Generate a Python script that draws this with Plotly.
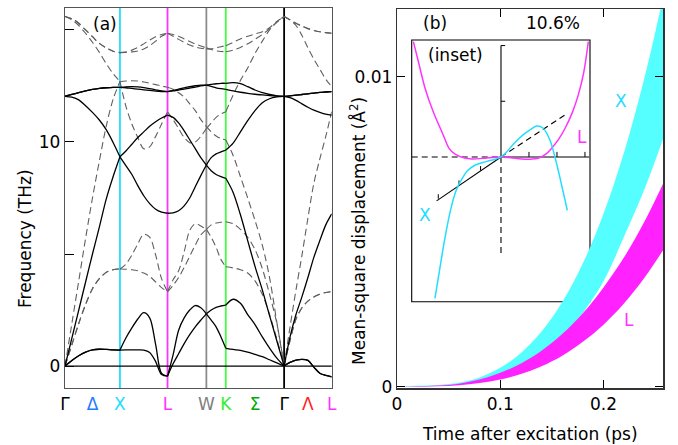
import plotly.graph_objects as go

# ---------------- data: phonon dispersion (panel a) ----------------
# k-path positions (units of 2*pi/a) for each segment
K_GX = [0.0, 0.125, 0.25, 0.375, 0.5, 0.625, 0.75, 0.875, 1.0]
K_XL = [1.0, 1.108, 1.217, 1.325, 1.433, 1.541, 1.650, 1.758, 1.866]
K_LW = [1.866, 1.967, 2.068, 2.169, 2.270, 2.371, 2.472, 2.573]
K_WK = [2.573, 2.661, 2.750, 2.839, 2.927]
K_KG = [2.927, 3.060, 3.193, 3.325, 3.458, 3.591, 3.723, 3.856, 3.988]
K_GL = [3.988, 4.096, 4.204, 4.313, 4.421, 4.529, 4.638, 4.746, 4.854]
SEGMENTS = [K_GX, K_XL, K_LW, K_WK, K_KG, K_GL]

SYM_K = [0.0, 0.5, 1.0, 1.866, 2.573, 2.927, 3.458, 3.988, 4.421, 4.854]
SYM_LABELS = ["Γ", "Δ", "X", "L", "W", "K", "Σ", "Γ", "Λ", "L"]
SYM_COLORS = ["#000000", "#1E7BFF", "#22DDFF", "#FF33FF", "#808080",
              "#33EE33", "#00AA00", "#000000", "#FF2222", "#FF33FF"]
VLINE_K = [1.0, 1.866, 2.573, 2.927, 3.988]
VLINE_COLORS = ["#22DDFF", "#FF33FF", "#8C8C8C", "#44FF44", "#000000"]
FREQ_LABELED = [0, 10]
FREQ_MINOR = [5, 15]

# excited state (solid), frequencies in THz per segment
SOLID_A = [[0, .25, .46, .62, .72, .75, .74, .72, .71],
           [.71, .72, .72, .72, .71, .6, .2, -.38, -.45],
           [-.45, .1, .55, 1.0, 1.4, 1.75, 2.05, 2.33],
           [2.33, 2.5, 2.62, 2.68, 2.72],
           [2.72, 2.98, 2.8, 2.3, 1.85, 1.3, .8, .35, 0],
           [0, .16, .26, .3, .25, -.05, -.32, -.42, -.48]]
SOLID_B = [[0, .25, .46, .62, .72, .75, .74, .72, .71],
           [.71, 1.25, 1.7, 2.1, 2.38, 2.15, .96, -.33, -.45],
           [-.45, .5, 1.6, 2.15, 2.5, 2.7, 2.6, 2.33],
           [2.33, 2.05, 1.75, 1.3, .79],
           [.79, .74, .7, .62, .52, .42, .28, .14, 0],
           [0, .16, .26, .3, .25, -.05, -.32, -.42, -.48]]
SOLID_C = [[0, 1.25, 2.5, 3.75, 5.0, 6.2, 7.45, 8.45, 9.34],
           [9.34, 8.95, 8.55, 8.05, 7.6, 7.25, 7.0, 6.87, 6.82],
           [6.82, 6.84, 6.93, 7.15, 7.5, 8.0, 8.5, 8.97],
           [8.97, 9.3, 9.47, 9.56, 9.64],
           [9.64, 9.95, 10.45, 10.95, 11.4, 11.75, 11.93, 12.01, 12.04],
           [12.04, 12.06, 12.09, 12.12, 12.15, 12.18, 12.21, 12.23, 12.25]]
SOLID_D = [[12.04, 12.0, 11.88, 11.62, 11.32, 10.98, 10.55, 9.98, 9.34],
           [9.34, 9.6, 9.9, 10.2, 10.45, 10.7, 10.9, 11.07, 11.2],
           [11.2, 11.1, 10.85, 10.5, 10.1, 9.7, 9.3, 8.97],
           [8.97, 8.72, 8.55, 8.45, 8.38],
           [8.38, 7.75, 6.75, 5.6, 4.45, 3.4, 2.25, 1.12, 0],
           [0, 1.3, 2.3, 3.1, 3.95, 4.85, 5.6, 6.3, 6.79]]
SOLID_E = [[12.04, 12.12, 12.2, 12.28, 12.35, 12.39, 12.42, 12.44, 12.44],
           [12.44, 12.46, 12.47, 12.46, 12.43, 12.38, 12.33, 12.28, 12.25],
           [12.25, 12.3, 12.36, 12.42, 12.47, 12.51, 12.54, 12.54],
           [12.54, 12.57, 12.6, 12.62, 12.62],
           [12.62, 12.65, 12.6, 12.47, 12.32, 12.2, 12.12, 12.06, 12.04],
           [12.04, 11.98, 11.86, 11.7, 11.55, 11.42, 11.32, 11.24, 11.2]]
SOLID_F = [[12.04, 12.12, 12.2, 12.28, 12.35, 12.39, 12.42, 12.44, 12.44],
           [12.44, 12.42, 12.39, 12.36, 12.33, 12.3, 12.27, 12.25, 12.25],
           [12.25, 12.28, 12.32, 12.36, 12.41, 12.45, 12.5, 12.54],
           [12.54, 12.48, 12.42, 12.38, 12.35],
           [12.35, 12.28, 12.22, 12.17, 12.13, 12.1, 12.07, 12.05, 12.04],
           [12.04, 12.06, 12.09, 12.12, 12.15, 12.18, 12.21, 12.23, 12.25]]

# ground state (dashed)
DASH_A = [[0, .95, 1.9, 2.75, 3.45, 3.9, 4.18, 4.3, 4.33],
          [4.33, 4.32, 4.3, 4.25, 4.15, 4.0, 3.75, 3.5, 3.32],
          [3.32, 3.85, 4.25, 5.1, 6.05, 6.35, 6.25, 6.1],
          [6.1, 5.75, 5.3, 4.75, 4.43],
          [4.43, 4.38, 4.3, 4.15, 3.8, 3.2, 2.3, 1.2, 0],
          [0, 1.15, 2.1, 2.6, 2.9, 3.08, 3.2, 3.28, 3.32]]
DASH_B = [[0, .95, 1.9, 2.75, 3.45, 3.9, 4.18, 4.3, 4.33],
          [4.33, 4.55, 4.95, 5.45, 5.88, 5.75, 4.95, 3.9, 3.32],
          [3.32, 3.6, 3.95, 4.4, 4.9, 5.4, 5.85, 6.1],
          [6.1, 6.3, 6.38, 6.42, 6.44],
          [6.44, 6.35, 6.1, 5.75, 5.2, 4.35, 3.2, 1.9, 0],
          [0, 1.15, 2.1, 2.6, 2.9, 3.08, 3.2, 3.28, 3.32]]
DASH_C = [[0, 1.9, 3.8, 5.7, 7.5, 9.15, 10.7, 11.9, 12.7],
          [12.7, 11.6, 10.8, 10.2, 9.7, 9.78, 10.25, 10.8, 11.35],
          [11.35, 11.0, 10.6, 10.2, 9.97, 10.0, 10.25, 10.6],
          [10.6, 10.85, 11.1, 11.25, 11.35],
          [11.35, 12.1, 12.75, 13.3, 13.95, 14.5, 15.0, 15.35, 15.6],
          [15.6, 15.45, 15.3, 15.17, 15.06, 14.98, 14.92, 14.88, 14.85]]
DASH_D = [[15.6, 15.45, 15.2, 14.85, 14.45, 14.0, 13.5, 13.05, 12.7],
          [12.7, 12.72, 12.73, 12.72, 12.68, 12.62, 12.56, 12.5, 12.44],
          [12.44, 12.35, 12.2, 12.0, 11.7, 11.4, 11.0, 10.7],
          [10.7, 10.45, 10.27, 10.15, 10.09],
          [10.09, 9.4, 8.45, 7.5, 6.5, 5.4, 3.95, 1.95, 0],
          [0, 1.75, 3.4, 4.95, 6.6, 8.15, 9.25, 10.25, 11.35]]
DASH_E = [[15.6, 15.5, 15.3, 15.0, 14.7, 14.4, 14.2, 14.05, 13.99],
          [13.99, 14.02, 14.1, 14.22, 14.38, 14.55, 14.7, 14.8, 14.85],
          [14.85, 14.8, 14.72, 14.6, 14.48, 14.38, 14.28, 14.2],
          [14.2, 14.13, 14.07, 14.04, 14.03],
          [14.03, 14.1, 14.22, 14.38, 14.58, 14.8, 15.05, 15.35, 15.6],
          [15.6, 15.45, 15.2, 14.75, 14.2, 13.7, 13.25, 12.8, 12.47]]
DASH_F = [[15.6, 15.5, 15.3, 15.0, 14.7, 14.4, 14.2, 14.05, 13.99],
          [13.99, 14.0, 14.02, 14.06, 14.15, 14.3, 14.5, 14.72, 14.85],
          [14.85, 14.72, 14.58, 14.45, 14.33, 14.24, 14.18, 14.15],
          [14.15, 14.16, 14.2, 14.25, 14.3],
          [14.3, 14.45, 14.6, 14.72, 14.82, 14.92, 15.1, 15.38, 15.6],
          [15.6, 15.45, 15.3, 15.17, 15.06, 14.98, 14.92, 14.88, 14.85]]

# ---------------- data: mean-square displacement (panel b) ----------------
T_PS = [0, .02, .04, .06, .08, .10, .12, .14, .16, .18, .20, .22, .24, .258]
X_UPPER = [0.00002, 0.00003, 0.00006, 0.00013, 0.0003, 0.00061, 0.00109,
           0.00178, 0.00273, 0.00398, 0.00558, 0.00757, 0.01001, 0.01261]
X_LOWER = [0.000005, 0.00001, 0.00003, 0.00008, 0.0002, 0.0004, 0.0007,
           0.0011, 0.0016, 0.00238, 0.0034, 0.00485, 0.0064, 0.00802]
L_UPPER = [0.00001, 0.00002, 0.00004, 0.0001, 0.00023, 0.00045, 0.00075,
           0.00116, 0.0017, 0.00237, 0.0032, 0.00418, 0.00535, 0.00657]
L_LOWER = [0, 0.000002, 0.000014, 0.000048, 0.00012, 0.00023, 0.00041,
           0.00066, 0.001, 0.00145, 0.002, 0.00269, 0.00353, 0.00442]
TIME_TICKS = [0, 0.1, 0.2]
MSD_TICKS = [0, 0.01]

# inset curves (arbitrary units)
INSET_X_U = [-2.36, -2.2, -2.0, -1.8, -1.6, -1.4, -1.2, -0.9, -0.5, 0, 0.5,
             0.8, 1.05, 1.27, 1.5, 1.75, 2.0, 2.2, 2.37]
INSET_X_V = [-2.54, -2.05, -1.45, -0.95, -0.6, -0.4, -0.25, -0.14, -0.08, 0,
             0.26, 0.4, 0.49, 0.556, 0.52, 0.3, -0.15, -0.58, -0.96]
INSET_L_U = [-3.13, -2.95, -2.71, -2.42, -2.06, -1.85, -1.64, -1.3, -1.05,
             -0.5, 0, 0.4, 0.74, 1.05, 1.33, 1.6, 1.81, 2.05, 2.29, 2.55,
             2.76, 2.95, 3.12]
INSET_L_V = [2.07, 1.71, 1.23, 0.81, 0.39, 0.15, 0.05, -0.02, -0.036, -0.02,
             0, -0.02, -0.036, -0.04, -0.024, 0.05, 0.156, 0.31, 0.515, 0.8,
             1.11, 1.5, 2.07]
FIT_SOLID_U = [-2.3, 0.0]
FIT_SOLID_V = [-0.79, 0.0]
FIT_DASH_U = [0.0, 2.38]
FIT_DASH_V = [0.0, 0.785]
FIT_TICK_U = [-2.24, -1.5, -0.73]
FIT_SLOPE = 0.335
INSET_XTICKS = [1, 2, 3]
INSET_YTICKS = [1, 2]

FONT = "DejaVu Sans"
FS = 17

fig = go.Figure()


def band_trace(band, color, dash, width):
    xs, ys = [], []
    for kk, vv in zip(SEGMENTS, band):
        xs += list(kk) + [None]
        ys += list(vv) + [None]
    return go.Scatter(x=xs, y=ys, mode="lines", connectgaps=False,
                      line=dict(color=color, dash=dash, width=width,
                                shape="spline", smoothing=0.9),
                      xaxis="x", yaxis="y", hoverinfo="skip", showlegend=False)


for b in [DASH_A, DASH_B, DASH_C, DASH_D, DASH_E, DASH_F]:
    fig.add_trace(band_trace(b, "#5f5f5f", "7px,4px", 1.1))
for b in [SOLID_A, SOLID_B, SOLID_C, SOLID_D, SOLID_E, SOLID_F]:
    fig.add_trace(band_trace(b, "#000000", "solid", 1.3))


# panel b bands
def edge(y, fill=None, color=None):
    return go.Scatter(x=T_PS, y=y, mode="lines", xaxis="x2", yaxis="y2",
                      line=dict(width=0, shape="spline", color=color or "rgba(0,0,0,0)"),
                      fill=fill, fillcolor=color, hoverinfo="skip", showlegend=False)


fig.add_trace(edge(X_LOWER))
fig.add_trace(edge(X_UPPER, "tonexty", "#55FFFF"))
fig.add_trace(edge(L_LOWER))
fig.add_trace(edge(L_UPPER, "tonexty", "#FF22FF"))


# inset
def inset_line(u, v, color, dash="solid", width=1.5, shape="spline"):
    return go.Scatter(x=u, y=v, mode="lines", xaxis="x3", yaxis="y3",
                      line=dict(color=color, dash=dash, width=width, shape=shape),
                      hoverinfo="skip", showlegend=False)


U_MIN, U_MAX = -3.19, 3.18
V_MIN, V_MAX = -2.6, 2.1
fig.add_trace(inset_line([U_MIN, 0], [0, 0], "#000000", "6px,4px", 1.1, "linear"))
fig.add_trace(inset_line([0, 3.15], [0, 0], "#000000", "solid", 1.1, "linear"))
fig.add_trace(inset_line([0, 0], [0, max(INSET_YTICKS)], "#000000", "solid", 1.1, "linear"))
fig.add_trace(inset_line([0, 0], [0, -1.76], "#000000", "6px,4px", 1.1, "linear"))
tx, ty = [], []
for t in INSET_XTICKS:
    tx += [t, t, None]; ty += [0, 0.09, None]
for t in INSET_YTICKS:
    tx += [0, 0.15, None]; ty += [t, t, None]
for t in FIT_TICK_U:
    tx += [t, t, None]; ty += [FIT_SLOPE * t, FIT_SLOPE * t + 0.08, None]
fig.add_trace(inset_line(tx, ty, "#000000", "solid", 1.0, "linear"))
fig.add_trace(inset_line(FIT_SOLID_U, FIT_SOLID_V, "#000000", "solid", 1.1, "linear"))
fig.add_trace(inset_line(FIT_DASH_U, FIT_DASH_V, "#000000", "6px,4px", 1.1, "linear"))
fig.add_trace(inset_line(INSET_L_U, INSET_L_V, "#FF33FF", width=1.5))
fig.add_trace(inset_line(INSET_X_U, INSET_X_V, "#22DDFF", width=1.5))

shapes = []
for k, c in zip(VLINE_K, VLINE_COLORS):
    shapes.append(dict(type="line", xref="x", yref="y domain", x0=k, x1=k, y0=0, y1=1,
                       line=dict(color=c, width=1.8), layer="below"))
shapes.append(dict(type="line", xref="x domain", yref="y", x0=0, x1=1, y0=0, y1=0,
                   line=dict(color="#000000", width=1.2), layer="below"))
shapes.append(dict(type="rect", xref="x3 domain", yref="y3 domain", x0=0, x1=1, y0=0, y1=1,
                   line=dict(color="#000000", width=1.1), layer="below"))

ticktext = [f"<span style='color:{c}'>{s}</span>" for s, c in zip(SYM_LABELS, SYM_COLORS)]

W, H = 678, 445
axis_common = dict(showgrid=False, zeroline=False, showline=True, automargin=False,
                   tickfont=dict(family=FONT, size=FS, color="#000"))

fig.update_layout(
    width=W, height=H, margin=dict(l=0, r=0, t=0, b=0, pad=0, autoexpand=False),
    paper_bgcolor="white", plot_bgcolor="rgba(0,0,0,0)",
    font=dict(family=FONT, size=FS, color="#000"),
    showlegend=False,
    xaxis=dict(domain=[65 / W, 331.7 / W], range=[0, 4.854], anchor="y",
               tickvals=SYM_K, ticktext=ticktext, ticks="", mirror=True,
               linecolor="#555", linewidth=1.2, **axis_common),
    yaxis=dict(domain=[1 - 388 / H, 1 - 8 / H], range=[-0.98, 15.98], anchor="x",
               tickvals=FREQ_LABELED, ticktext=[str(v) for v in FREQ_LABELED],
               ticks="inside", ticklen=9, tickcolor="#000", mirror=True,
               minor=dict(tickvals=FREQ_MINOR, ticks="inside", ticklen=9,
                          tickcolor="#000", showgrid=False),
               linecolor="#555", linewidth=1.2, **axis_common),
    xaxis2=dict(domain=[397 / W, 663.3 / W], range=[0, 0.2579], anchor="y2",
                tickvals=TIME_TICKS, ticktext=["0", "0.1", "0.2"],
                ticks="inside", ticklen=8, tickcolor="#000", mirror="ticks",
                linecolor="#333", linewidth=1.2, **axis_common),
    yaxis2=dict(domain=[1 - 388.3 / H, 1 - 9 / H], range=[-0.00005, 0.01218], anchor="x2",
                tickvals=MSD_TICKS, ticktext=["0", "0.01"],
                ticks="inside", ticklen=8, tickcolor="#000", mirror="ticks",
                linecolor="#333", linewidth=1.2, **axis_common),
    xaxis3=dict(domain=[411.7 / W, 590 / W], range=[U_MIN, U_MAX], anchor="y3",
                visible=False, automargin=False),
    yaxis3=dict(domain=[1 - 301.7 / H, 1 - 40 / H], range=[V_MIN, V_MAX], anchor="x3",
                visible=False, automargin=False),
    shapes=shapes,
)

ann = [
    dict(text="(a)", x=0.73, y=15.27, xref="x", yref="y"),
    dict(text="(b)", x=0.0372, y=0.01173, xref="x2", yref="y2"),
    dict(text="10.6%", x=0.1508, y=0.01173, xref="x2", yref="y2"),
    dict(text="X", x=0.2168, y=0.00922, xref="x2", yref="y2", font=dict(color="#22DDFF")),
    dict(text="L", x=0.2245, y=0.00215, xref="x2", yref="y2", font=dict(color="#FF33FF")),
    dict(text="(inset)", x=-1.64, y=1.83, xref="x3", yref="y3"),
    dict(text="X", x=-2.71, y=-1.04, xref="x3", yref="y3", font=dict(color="#22DDFF")),
    dict(text="L", x=2.88, y=0.36, xref="x3", yref="y3", font=dict(color="#FF33FF")),
    dict(text="Frequency (THz)", x=25 / W, y=1 - 239 / H, xref="paper", yref="paper",
         textangle=-90),
    dict(text="Mean-square displacement (Å<sup>2</sup>)", x=358 / W, y=1 - 231 / H,
         xref="paper", yref="paper", textangle=-90),
    dict(text="Time after excitation (ps)", x=530 / W, y=1 - 434 / H,
         xref="paper", yref="paper"),
]
for a in ann:
    a.setdefault("showarrow", False)
    f = dict(family=FONT, size=FS, color="#000")
    f.update(a.get("font", {}))
    a["font"] = f
    a["xanchor"] = "center"
    a["yanchor"] = "middle"
fig.update_layout(annotations=ann)

fig.write_html(
    "out.html",
    config={"displayModeBar": False, "staticPlot": True},
    post_script="document.body.style.margin='0';document.body.style.overflow='hidden';",
)
